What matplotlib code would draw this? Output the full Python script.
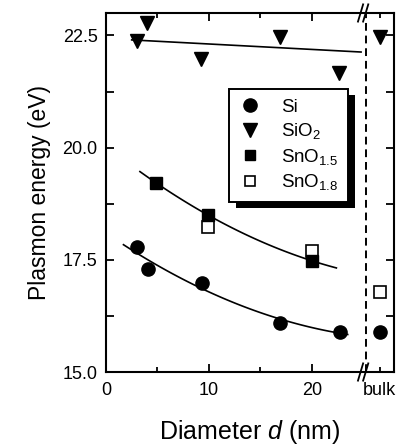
import numpy as np
import matplotlib.pyplot as plt
from matplotlib.patches import Rectangle
from matplotlib.lines import Line2D
import matplotlib.transforms as mtransforms

plt.rcParams['font.family'] = ['Liberation Sans', 'DejaVu Sans']
plt.rcParams['mathtext.fontset'] = 'custom'
plt.rcParams['mathtext.rm'] = 'Liberation Sans'
plt.rcParams['mathtext.it'] = 'Liberation Sans:italic'

# position used for the "bulk" values on the x axis
x_bulk = 26.6
x_break = 25.0
x_dash = 25.25

# data
si_d = [3.0, 4.1, 9.3, 16.9, 22.8]
si_E = [17.78, 17.29, 16.99, 16.10, 15.89]
si_bulk = 15.89

sio2_d = [3.0, 4.0, 9.2, 16.9, 22.7]
sio2_E = [22.38, 22.77, 21.98, 22.46, 21.67]
sio2_bulk = 22.47

sno15_d = [4.9, 9.9, 20.0]
sno15_E = [19.21, 18.50, 17.48]

sno18_d = [9.9, 20.0]
sno18_E = [18.22, 17.70]
sno18_bulk = 16.79

# guide lines
si_fit_range = (1.7, 23.5)
sno_fit_range = (3.3, 22.4)
sio2_line_d = [2.5, 24.8]
sio2_line_E = [22.40, 22.13]

fig = plt.figure(figsize=(4.07, 4.46), dpi=100)
ax = fig.add_axes([0.2604, 0.1659, 0.968 - 0.2604, 0.9709 - 0.1659])

ms = 9.5
# fitted curves
p = np.polyfit(si_d, si_E, 2)
xx = np.linspace(*si_fit_range, 100)
ax.plot(xx, np.polyval(p, xx), color='k', lw=1.2, zorder=2)

ax.plot(sio2_line_d, sio2_line_E, color='k', lw=1.2, zorder=2)

p = np.polyfit(sno15_d, sno15_E, 2)
xx = np.linspace(*sno_fit_range, 100)
ax.plot(xx, np.polyval(p, xx), color='k', lw=1.2, zorder=2)

# points
ax.plot(si_d + [x_bulk], si_E + [si_bulk], 'o', color='k', ms=ms, zorder=3)
ax.plot(sio2_d + [x_bulk], sio2_E + [sio2_bulk], 'v', color='k', ms=ms + 1, zorder=3)
ax.plot(sno18_d + [x_bulk], sno18_E + [sno18_bulk], 's', mfc='white', mec='k',
        mew=1.2, ms=ms - 1, zorder=3)
ax.plot(sno15_d, sno15_E, 's', color='k', ms=ms - 1, zorder=4)

# dashed separator for bulk
ax.axvline(x_dash, color='k', lw=1.4, ls=(0, (4, 2.5)), zorder=1)

ax.set_xlim(0, 28)
ax.set_ylim(15, 23.0)
ax.set_xticks([0, 10, 20])
ax.set_xticklabels(['0', '10', '20'])
ax.set_xticks([5, 15, x_bulk], minor=True)
ax.set_xticklabels(['', '', 'bulk'], minor=True)
ax.set_yticks([15, 17.5, 20, 22.5])
ax.set_yticklabels(['15.0', '17.5', '20.0', '22.5'])
ax.set_yticks([16.25, 18.75, 21.25], minor=True)
ax.tick_params(which='both', direction='in', top=True, right=True, width=1.3,
               labelsize=13, pad=7)
ax.tick_params(axis='y', which='both', length=6, pad=6)
ax.tick_params(axis='x', which='major', length=6)
ax.tick_params(axis='x', which='minor', length=3.5)
for s in ax.spines.values():
    s.set_linewidth(1.5)

ax.set_xlabel('Diameter $\\mathit{d}$ (nm)', fontsize=18, labelpad=14)
ax.set_ylabel('Plasmon energy (eV)', fontsize=16.5, labelpad=8)

# axis break marks
trans = mtransforms.blended_transform_factory(ax.transData, ax.transAxes)
for yb in (0.0, 1.0):
    for dx in (-0.25, 0.25):
        ax.plot([x_break + dx - 0.25, x_break + dx + 0.25], [yb - 0.024, yb + 0.024],
                color='k', lw=1.3, transform=trans, clip_on=False, zorder=6)

handles = [
    Line2D([], [], ls='none', marker='o', color='k', ms=ms),
    Line2D([], [], ls='none', marker='v', color='k', ms=ms + 1),
    Line2D([], [], ls='none', marker='s', color='k', ms=ms - 2),
    Line2D([], [], ls='none', marker='s', mfc='white', mec='k', mew=1.2, ms=ms - 2),
]
labels = ['Si', 'SiO$_\\mathregular{2}$', 'SnO$_\\mathregular{1.5}$', 'SnO$_\\mathregular{1.8}$']
leg = ax.legend(handles, labels, loc='upper left', bbox_to_anchor=(0.427, 0.788),
                borderaxespad=0, fontsize=13.5, frameon=True, fancybox=False,
                edgecolor='k', framealpha=1, handlelength=1.2, handletextpad=1.1,
                labelspacing=0.3, borderpad=0.5)
leg.get_frame().set_linewidth(1.4)
leg.set_zorder(7)

fig.canvas.draw()
bb = leg.get_window_extent()
inv = fig.transFigure.inverted()
(x0, y0), (x1, y1) = inv.transform([[bb.x0 + 7, bb.y0 - 6], [bb.x1 + 7, bb.y1 - 6]])
ax.add_patch(Rectangle((x0, y0), x1 - x0, y1 - y0, transform=fig.transFigure,
                       facecolor='k', edgecolor='none', clip_on=False, zorder=6.5))

fig.savefig('out.png', dpi=100)
